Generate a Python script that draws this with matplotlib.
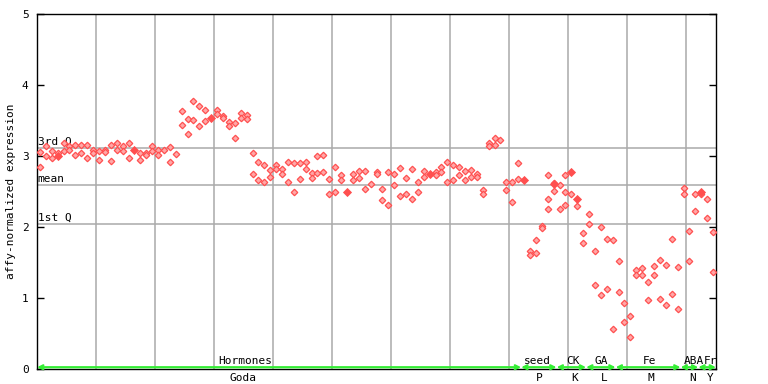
import matplotlib
matplotlib.use("Agg")
import matplotlib.pyplot as plt
from matplotlib.transforms import blended_transform_factory

# ---------------- data ----------------
sample_idx = [
    0, 0, 1, 1, 2, 2, 3, 4, 4, 5, 5, 6, 6, 7, 7, 8, 8, 9, 9, 10, 10, 11, 11,
    12, 12, 13, 13, 14, 14, 15, 15, 17, 17, 18, 18, 19, 19, 20, 20, 21, 22, 22, 23,
    24, 24, 25, 25, 26, 26, 27, 27, 28, 28, 30, 30, 31, 31, 32, 32, 33, 33,
    34, 34, 35, 35, 36, 36, 37, 37, 38, 38, 39, 39, 40, 40, 41, 41, 42, 42,
    43, 43, 44, 44, 45, 45, 46, 46, 47, 47, 48, 48, 49, 49, 50, 50, 51, 51,
    53, 53, 54, 54, 55, 55, 56, 57, 57, 58, 58, 59, 59, 60, 60, 61, 61,
    62, 62, 63, 63, 64, 64, 65, 65, 67, 67, 68, 68, 69, 69, 70, 70, 71, 71,
    72, 72, 73, 73, 74, 74, 75, 75, 76, 76, 77, 77, 78, 79, 79, 80, 80, 81, 81,
    83, 83, 84, 84, 85, 85, 86, 86, 86, 87, 87, 88, 88, 89, 89, 89, 90, 91,
    92, 92, 93, 93, 94, 94, 95, 95, 96, 96, 97, 97, 98, 98, 99, 99, 100, 100,
    101, 101, 102, 102, 103, 103, 104, 104, 105, 105, 106, 106, 107, 107,
    108, 108, 109, 109, 110, 110, 111, 111, 112, 113, 113, 114, 114,
]
expr = [
    3.06, 2.85, 3.14, 3.00, 3.07, 2.97, 3.04, 3.19, 3.07, 3.14, 3.09, 3.16, 3.01,
    3.16, 3.04, 3.15, 2.97, 3.08, 3.04, 3.07, 2.95, 3.08, 3.05,
    3.15, 2.93, 3.18, 3.09, 3.14, 3.07, 3.19, 2.97, 3.04, 2.95, 3.04, 3.02,
    3.14, 3.07, 3.09, 3.01, 3.09, 3.12, 2.92, 3.03,
    3.63, 3.44, 3.52, 3.31, 3.77, 3.51, 3.70, 3.42, 3.65, 3.50, 3.65, 3.59,
    3.57, 3.54, 3.48, 3.42, 3.47, 3.26,
    3.60, 3.54, 3.58, 3.52, 3.04, 2.74, 2.92, 2.66, 2.87, 2.64, 2.80, 2.71,
    2.87, 2.81, 2.82, 2.74, 2.92, 2.63,
    2.90, 2.50, 2.90, 2.67, 2.92, 2.81, 2.76, 2.69, 3.00, 2.76, 3.01, 2.77,
    2.67, 2.46, 2.84, 2.49, 2.73, 2.66,
    2.74, 2.66, 2.79, 2.69, 2.79, 2.54, 2.60, 2.77, 2.74, 2.54, 2.38, 2.77, 2.31,
    2.74, 2.59, 2.83, 2.43,
    2.69, 2.46, 2.81, 2.39, 2.63, 2.49, 2.79, 2.71, 2.77, 2.73, 2.84, 2.77,
    2.92, 2.64, 2.87, 2.66, 2.85, 2.73,
    2.79, 2.66, 2.80, 2.71, 2.74, 2.71, 2.52, 2.47, 3.19, 3.14, 3.26, 3.16, 3.23,
    2.64, 2.52, 2.64, 2.35, 2.90, 2.67,
    1.66, 1.60, 1.82, 1.64, 2.02, 1.99, 2.73, 2.40, 2.26, 2.62, 2.51, 2.59, 2.26,
    2.73, 2.49, 2.31, 2.46, 2.30,
    1.91, 1.77, 2.18, 2.04, 1.66, 1.18, 2.00, 1.04, 1.83, 1.12, 1.82, 0.56,
    1.52, 1.09, 0.93, 0.66, 0.75, 0.45,
    1.40, 1.32, 1.42, 1.33, 1.22, 0.97, 1.45, 1.32, 1.53, 0.99, 1.47, 0.90,
    1.83, 1.06,
    1.43, 0.85, 2.55, 2.47, 1.94, 1.52, 2.47, 2.22, 2.46, 2.40, 2.12, 1.93, 1.36,
]
filled_idx = [3, 16, 29, 52, 66, 82, 87, 90, 91, 112]
filled_expr = [3.00, 3.08, 3.54, 2.50, 2.75, 2.66, 2.60, 2.77, 2.40, 2.50]

n_samples = 115
q3_val, mean_val, q1_val = 3.11, 2.59, 2.04

groups = ["Hormones", "seed", "CK", "GA", "Fe", "ABA", "Fr"]
sub_labels = ["Goda", "P", "K", "L", "M", "N", "Y"]
group_start = [0, 82, 88, 93, 98, 109, 112]
group_end = [81, 87, 92, 97, 108, 111, 114]

# ---------------- layout ----------------
font = "DejaVu Sans Mono"
fs = 8.0
plt.rcParams["font.family"] = font

fig = plt.figure(figsize=(7.68, 3.84), dpi=100)
ax = fig.add_axes([37 / 768, 1 - 369 / 384, (716 - 37) / 768, (369 - 14) / 384])
ax.set_xlim(-0.5, n_samples - 0.5)
ax.set_ylim(0, 5)

grid_c = "#aaaaaa"
for k in range(10, n_samples, 10):
    ax.axvline(k - 0.5, color=grid_c, lw=1.1, zorder=1)
for v in (q3_val, mean_val, q1_val):
    ax.axhline(v, color=grid_c, lw=1.1, zorder=1)

lab_tr = blended_transform_factory(ax.transAxes, ax.transData)
ax.text(0.001, q3_val + 0.02, "3rd Q", transform=lab_tr, fontsize=fs, va="bottom", ha="left", zorder=3)
ax.text(0.001, mean_val + 0.02, "mean", transform=lab_tr, fontsize=fs, va="bottom", ha="left", zorder=3)
ax.text(0.001, q1_val + 0.02, "1st Q", transform=lab_tr, fontsize=fs, va="bottom", ha="left", zorder=3)

ax.plot(sample_idx, expr, linestyle="none", marker="D", ms=3.3,
        mfc="#ffa8a8", mec="#ff4f4f", mew=0.9, zorder=4)
ax.plot(filled_idx, filled_expr, linestyle="none", marker="D", ms=4.0,
        mfc="#ff4f4f", mec="#ff4f4f", mew=0.6, zorder=5)

# category bars along the bottom
for s, e in zip(group_start, group_end):
    ax.annotate("", xy=(e + 0.5, 0.025), xytext=(s - 0.5, 0.025),
                arrowprops=dict(arrowstyle="<->", color="#33ee33", lw=1.6,
                                shrinkA=0, shrinkB=0, mutation_scale=7),
                annotation_clip=False, zorder=6)

label_pos = [34.8, 84.2, 90.2, 95.1, 103.3, 110.7, 113.6]
sub_pos = [34.4, 84.6, 90.5, 95.5, 103.5, 110.5, 113.6]
tr = blended_transform_factory(ax.transData, ax.transAxes)
for g, x in zip(groups, label_pos):
    ax.text(x, 0.008, g, transform=tr, fontsize=fs, ha="center", va="bottom", zorder=6)
for g, x in zip(sub_labels, sub_pos):
    ax.text(x, -0.024, g, transform=tr, fontsize=fs, ha="center", va="center", zorder=6)

ax.set_yticks([0, 1, 2, 3, 4, 5])
ax.set_yticklabels(["0", "1", "2", "3", "4", "5"], fontsize=fs)
ax.set_xticks([])
ax.tick_params(axis="y", direction="in", length=5, width=1, left=True, right=True, pad=6)
for sp in ax.spines.values():
    sp.set_color("black")
    sp.set_linewidth(1)
ax.set_ylabel("affy-normalized expression", fontsize=fs)
ax.yaxis.set_label_coords(-0.031, 0.5)

fig.savefig("out.png", dpi=100)
